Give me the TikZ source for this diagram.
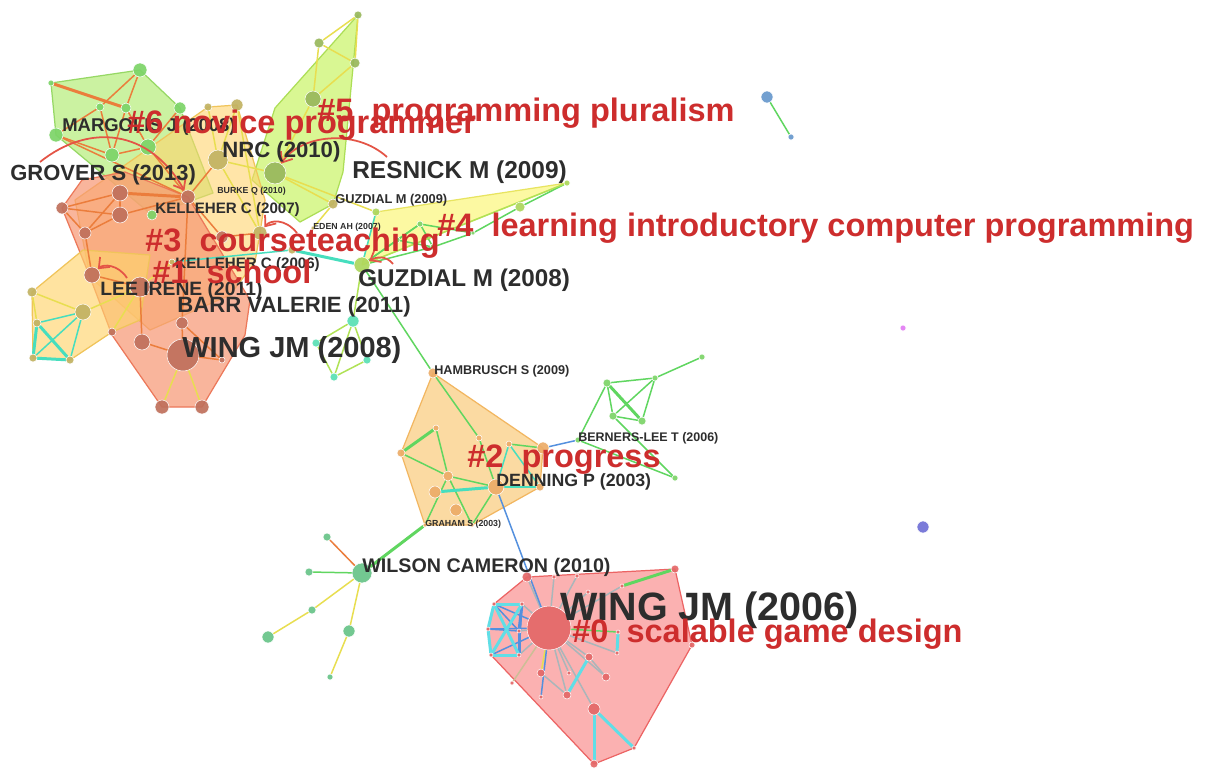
\documentclass[tikz,border=0pt]{standalone}
\usepackage{fontspec}
\setmainfont{Liberation Sans}
\usepackage{tikz}
\usetikzlibrary{arrows.meta, backgrounds}
% node colours
\definecolor{redhub}{RGB}{228,104,104}
\definecolor{brownhub}{RGB}{192,112,92}
\definecolor{olivehub}{RGB}{194,178,98}
\definecolor{orangehub}{RGB}{236,172,104}
\definecolor{greenhub}{RGB}{124,212,104}
\definecolor{limehub}{RGB}{172,214,92}
\definecolor{mosshub}{RGB}{152,184,92}
\definecolor{tealhub}{RGB}{90,224,180}
\definecolor{mintHub}{RGB}{104,196,136}
\definecolor{bluehub}{RGB}{104,152,204}
\definecolor{violethub}{RGB}{226,124,244}
\definecolor{slatehub}{RGB}{112,112,214}
% link colours
\definecolor{linkorange}{RGB}{235,125,60}
\definecolor{linkyellow}{RGB}{232,222,80}
\definecolor{linkgreen}{RGB}{96,214,96}
\definecolor{linklime}{RGB}{176,226,86}
\definecolor{linkteal}{RGB}{70,222,190}
\definecolor{linkcyan}{RGB}{96,222,230}
\definecolor{linkblue}{RGB}{84,144,222}
\definecolor{linkgray}{RGB}{170,182,186}
\definecolor{linktan}{RGB}{204,190,150}
% cluster areas
\definecolor{hullred}{RGB}{250,152,152}
\definecolor{hullredline}{RGB}{236,100,100}
\definecolor{hullamber}{RGB}{250,206,132}
\definecolor{hullamberline}{RGB}{242,182,96}
\definecolor{hulllime}{RGB}{205,245,112}
\definecolor{hulllimeline}{RGB}{172,222,86}
\definecolor{hullgreen}{RGB}{186,238,130}
\definecolor{hullgreenline}{RGB}{150,216,100}
\definecolor{hullyellow}{RGB}{252,248,132}
\definecolor{hullyellowline}{RGB}{232,228,96}
\definecolor{hullsalmon}{RGB}{247,150,115}
\definecolor{hullsalmonline}{RGB}{236,120,90}
\definecolor{hullgold}{RGB}{255,212,110}
\definecolor{hullgoldline}{RGB}{240,196,90}
% text
\definecolor{labelink}{RGB}{45,45,45}
\definecolor{clusterred}{RGB}{205,45,45}
\definecolor{pointerred}{RGB}{228,84,70}

\newcommand\lblsize[1]{\fontsize{#1}{#1}\selectfont}
\pgfdeclarelayer{paper}
\pgfdeclarelayer{hulls}
\pgfdeclarelayer{links}
\pgfsetlayers{paper,hulls,links,main}

\tikzset{
  hub/.style={circle, inner sep=0pt, draw=white, line width=0.3pt, fill opacity=0.92},
  ln/.style={line width=0.85pt, line cap=round},
  lnthick/.style={line width=1.7pt, line cap=round},
  hull/.style={line width=0.7pt, line join=round, fill opacity=0.75},
  cite/.style={anchor=west, inner sep=0pt, text=labelink, font=\bfseries},
  cluster/.style={anchor=west, inner sep=0pt, text=clusterred, font=\bfseries},
  pointer/.style={draw=pointerred, line width=1pt, -{Straight Barb[length=5pt, width=8pt]}}
}

\begin{document}
\begin{tikzpicture}[x={(0.02cm,0)}, y={(0,-0.02cm)}]
    \useasboundingbox (0,0) rectangle (1206,769);
    \begin{pgfonlayer}{paper}
        \fill[white] (0,0) rectangle (1206,769);
    \end{pgfonlayer}

    % citation nodes: name/x/y/radius/colour
    \foreach \n/\x/\y/\rad/\col in {
        w06/549/628/22/redhub, z1/527/577/5/redhub, z2/554/577/2/redhub, z3/577/576/2/redhub,
        z4/588/592/2/redhub, z5/622/586/2/redhub, z6/675/569/4/redhub, z7/494/604/2/redhub,
        z8/522/604/2/redhub, z9/488/629/2/redhub, z10/519/631/2/redhub, z11/491/655/2/redhub,
        z12/519/655/2/redhub, z13/512/683/2/redhub, z14/541/673/4/redhub, z15/541/697/2/redhub,
        z16/569/673/2/redhub, z17/567/695/4/redhub, z18/589/657/4/redhub, z19/606/677/4/redhub,
        z20/594/709/6/redhub, z21/634/748/2/redhub, z22/594/764/4/redhub, z23/617/653/2/redhub,
        z24/692/645/3/redhub, z25/618/632/2/redhub,
        ham/433/373/5/orangehub, d1/436/428/3/orangehub, d2/479/438/3/orangehub, d3/509/444/3/orangehub,
        d4/543/448/6/orangehub, d5/401/453/4/orangehub, d6/448/476/5/orangehub, d7/435/492/6/orangehub,
        den/496/487/8/orangehub, d8/456/510/6/orangehub, d9/540/487/4/orangehub, gra/425/525/2/orangehub,
        d10/472/525/2/orangehub,
        g1/702/357/3/greenhub, g2/655/378/3/greenhub, g3/607/383/4/greenhub, g4/613/416/4/greenhub,
        g5/642/421/4/greenhub, ber/578/440/3/greenhub, g6/675/478/3/greenhub,
        wil/362/573/10/mintHub, w1/327/537/4/mintHub, w2/309/572/4/mintHub, w3/312/610/4/mintHub,
        w4/268/637/6/mintHub, w5/349/631/6/mintHub, w6/330/677/3/mintHub,
        t1/353/321/6/tealhub, t2/316/343/4/tealhub, t3/367/360/4/tealhub, t4/334/377/4/tealhub,
        gz8/362/265/8/limehub, f1/567/183/3/limehub, f2/520/207/5/limehub, f3/376/212/4/limehub,
        f4/420/224/3/greenhub, f5/397/240/3/greenhub, f6/433/247/3/greenhub, f7/473/233/2/greenhub,
        c1/292/250/4/olivehub,
        p1/358/15/4/mosshub, p2/319/43/5/mosshub, p3/355/63/5/mosshub, p4/313/99/8/mosshub,
        p5/275/173/11/mosshub, gz9/333/204/5/olivehub, eden/313/228/2/olivehub,
        m1/51/83/3/greenhub, m2/140/70/7/greenhub, m3/100/107/4/greenhub, m4/126/108/5/greenhub,
        m5/180/108/6/greenhub, mar/56/135/7/greenhub, m6/112/155/7/greenhub, m7/148/147/8/greenhub,
        m8/152/215/5/greenhub,
        y1/208/107/4/olivehub, y2/237/105/6/olivehub, nrc/218/160/10/olivehub,
        kel/188/197/7/brownhub, b1/120/193/8/brownhub, b2/62/208/6/brownhub, b3/120/215/8/brownhub,
        b4/85/233/6/brownhub, b6/222/237/6/brownhub, b7/260/233/7/olivehub, k06/172/262/3/olivehub,
        lee/140/287/10/brownhub, b8/92/275/8/brownhub, b9/112/332/4/brownhub, b10/182/323/6/brownhub,
        b11/142/342/8/brownhub, w08/183/355/16/brownhub, b12/162/407/7/brownhub, b13/202/407/7/brownhub,
        b14/222/360/3/brownhub,
        l1/32/292/5/olivehub, l2/83/312/8/olivehub, l3/37/323/4/olivehub, l4/33/358/4/olivehub,
        l5/70/360/4/olivehub,
        s1/767/97/6/bluehub, s2/791/137/3/bluehub, s3/903/328/3/violethub, s4/923/527/6/slatehub}
        \node[hub, fill=\col, minimum size=\rad*0.04cm] (\n) at (\x,\y) {};

    % cluster areas
    \begin{pgfonlayer}{hulls}
        \filldraw[hull, fill=hullred, draw=hullredline] (z1.center) -- (z6.center) -- (z24.center) -- (z21.center)
            -- (z22.center) -- (z11.center) -- (z9.center) -- (z7.center) -- cycle;
        \filldraw[hull, fill=hullamber, draw=hullamberline] (ham.center) -- (d4.center) -- (d9.center)
            -- (d10.center) -- (gra.center) -- (d5.center) -- cycle;
        \filldraw[hull, fill=hullyellow, draw=hullyellowline] (f3.center) -- (f1.center) -- (gz8.center) -- cycle;
        \filldraw[hull, fill=hulllime, draw=hulllimeline] (p1.center) -- (343,172) -- (gz9.center) -- (300,222)
            -- (252,180) -- (275,108) -- cycle;
        \filldraw[hull, fill=hullgreen, draw=hullgreenline] (m1.center) -- (m2.center) -- (m5.center) -- (213,193)
            -- (m8.center) -- (mar.center) -- cycle;
        \filldraw[hull, fill=hullgold, fill opacity=0.6, draw=hullgoldline] (75,200) -- (y1.center) -- (y2.center)
            -- (265,200) -- (b7.center) -- (255,262) -- (230,295) -- (150,330) -- (90,277) -- cycle;
        \filldraw[hull, fill=hullsalmon, fill opacity=0.7, draw=hullsalmonline] (82,180) -- (125,172) -- (188,197)
            -- (250,300) -- (245,335) -- (b13.center) -- (b12.center) -- (112,335) -- (90,277) -- (b2.center) -- cycle;
        \filldraw[hull, fill=hullgold, fill opacity=0.65, draw=hullgoldline] (l1.center) -- (83,250) -- (150,255)
            -- (140,320) -- (b9.center) -- (l5.center) -- (l4.center) -- cycle;
    \end{pgfonlayer}

    % co-citation links
    \begin{pgfonlayer}{links}
        \foreach \a/\b in {w06/z1, w06/z2, w06/z3, w06/z4, w06/z8, w06/z10, w06/z12, w06/z16, w06/z17,
            w06/z18, w06/z19, w06/z20, w06/z23, w06/z5, z18/z19, z14/z17}
            \draw[ln, linkgray] (\a) -- (\b);
        \draw[ln, linktan] (w06) -- (z13);
        \draw[ln, linkyellow] (w06) -- (z14);
        \foreach \a/\b in {w06/z7, w06/z9, w06/z11, w06/z15, z7/z10, z9/z10, z8/z12, den/w06, d4/ber}
            \draw[ln, linkblue] (\a) -- (\b);
        \foreach \a/\b in {z8/z10, z10/z12}
            \draw[lnthick, linkblue] (\a) -- (\b);
        \foreach \a/\b in {z7/z8, z7/z12, z8/z11, z11/z12, z7/z9, z9/z11, z18/z17, z20/z22, z20/z21, z23/z25}
            \draw[lnthick, linkcyan] (\a) -- (\b);
        \draw[lnthick, linkgreen] (z5) -- (z6);
        \draw[ln, linkgreen] (z25) -- (w06);

        \foreach \a/\b in {ham/d2, d2/den, d1/d6, d5/d6, d6/den, d6/gra, d6/d10, den/d10, d3/d4,
            g1/g2, g2/g3, g2/g4, g2/g5, g3/g4, g4/g5, g3/ber, ber/g6, g4/g6, ham/gz8, wil/w2, s1/s2,
            gz8/f4, gz8/f5, gz8/f6, f5/f4, f4/f6, f5/f6, f6/f7, f4/f7, f7/f2, f2/f1}
            \draw[ln, linkgreen] (\a) -- (\b);
        \foreach \a/\b in {d5/d1, g3/g5, gra/wil}
            \draw[lnthick, linkgreen] (\a) -- (\b);
        \foreach \a/\b in {d3/den, d3/d9, den/d9, f3/gz8, k06/c1}
            \draw[ln, linkteal] (\a) -- (\b);
        \foreach \a/\b in {d7/den, c1/gz8, l3/l4, l3/l5, l4/l5}
            \draw[lnthick, linkteal] (\a) -- (\b);
        \foreach \a/\b in {l2/l3, l2/l4, l2/l5}
            \draw[ln, linkteal] (\a) -- (\b);

        \foreach \a/\b in {t1/t2, t1/t3, t1/t4, t2/t4, t3/t4, gz8/t1, gz8/f1}
            \draw[ln, linklime] (\a) -- (\b);

        \foreach \a/\b in {wil/w3, w3/w4, wil/w5, w5/w6, p1/p2, p1/p3, p2/p3, p2/p4, p3/p4, p4/p5,
            p5/gz9, p5/nrc, p5/f3, gz9/eden, y1/nrc, y2/nrc, y2/b7, nrc/b7, w08/b12, w08/b13,
            lee/b9, l2/lee, l1/l2, l1/l3, k06/lee}
            \draw[ln, linkyellow] (\a) -- (\b);

        \foreach \a/\b in {wil/w1, m2/m3, m2/m4, m3/mar, m3/m6, m4/m6, m4/m7, mar/m6, m6/m7, m7/kel,
            mar/kel, m7/m5, nrc/kel, kel/b6, b6/b7, b1/b2, b1/b3, b2/b3, b2/b4, b3/b4, b1/b4, b3/kel,
            b4/b8, b8/lee, lee/b11, b11/w08, w08/b10, kel/b10, w08/b14, b10/b14}
            \draw[ln, linkorange] (\a) -- (\b);
        \foreach \a/\b in {m1/m4, b1/kel}
            \draw[lnthick, linkorange] (\a) -- (\b);
    \end{pgfonlayer}

    % label pointers
    \coordinate (a6) at (40,162);
    \draw[pointer] (a6) .. controls (90,122) and (150,130) .. (kel);
    \coordinate (anrc) at (387,157);
    \draw[pointer] (anrc) .. controls (355,128) and (300,135) .. (p5);
    \coordinate (a3) at (297,233);
    \draw[pointer] (a3) .. controls (285,218) and (270,220) .. (b7);
    \coordinate (a1) at (127,278);
    \draw[pointer] (a1) .. controls (118,264) and (103,264) .. (b8);
    \coordinate (a4) at (393,264);
    \draw[pointer] (a4) .. controls (386,255) and (376,257) .. (gz8);

    % reference labels
    \node[cite] (tmar) at (62,127) {\lblsize{10.5}MARGOLIS J (2008)};
    \node[cite] (tgro) at (10,175) {\lblsize{12.5}GROVER S (2013)};
    \node[cite] (tnrc) at (222,152) {\lblsize{12.6}NRC (2010)};
    \node[cite] (tres) at (352,172) {\lblsize{13.9}RESNICK M (2009)};
    \node[cite] (tbur) at (217,191) {\lblsize{5}BURKE Q (2010)};
    \node[cite] (tgz9) at (335,200) {\lblsize{7.3}GUZDIAL M (2009)};
    \node[cite] (tkel7) at (155,210) {\lblsize{8.6}KELLEHER C (2007)};
    \node[cite] (teden) at (313,227) {\lblsize{5}EDEN AH (2007)};
    \node[cite] (tkel6) at (175,265) {\lblsize{8.6}KELLEHER C (2006)};
    \node[cite] (tlee) at (100,290) {\lblsize{11}LEE IRENE (2011)};
    \node[cite] (tbarr) at (177,307) {\lblsize{12.6}BARR VALERIE (2011)};
    \node[cite] (tw08) at (182,350) {\lblsize{16.5}WING JM (2008)};
    \node[cite] (tgz8) at (358,280) {\lblsize{13.8}GUZDIAL M (2008)};
    \node[cite] (tham) at (434,371) {\lblsize{7.2}HAMBRUSCH S (2009)};
    \node[cite] (tber) at (578,438) {\lblsize{7.1}BERNERS-LEE T (2006)};
    \node[cite] (tden) at (496,482) {\lblsize{10.1}DENNING P (2003)};
    \node[cite] (tgra) at (425,524) {\lblsize{5}GRAHAM S (2003)};
    \node[cite] (twil) at (362,567) {\lblsize{11.2}WILSON CAMERON (2010)};
    \node[cite] (tw06) at (560,610) {\lblsize{22.5}WING JM (2006)};

    % cluster labels
    \node[cluster] (k5) at (317,113) {\lblsize{18.5}\#5\ \ programming pluralism};
    \node[cluster] (k6) at (127,125) {\lblsize{18.5}\#6 novice programmer};
    \node[cluster] (k4) at (437,228) {\lblsize{18.5}\#4\ \ learning introductory computer programming};
    \node[cluster] (k3) at (145,243) {\lblsize{18.5}\#3\ \ courseteaching};
    \node[cluster] (k1) at (152,272) {\lblsize{18.5}\#1\ \ school};
    \node[cluster] (k2) at (467,460) {\lblsize{18.5}\#2\ \ progress};
    \node[cluster] (k0) at (572,634) {\lblsize{18.5}\#0\ \ scalable game design};
\end{tikzpicture}
\end{document}
